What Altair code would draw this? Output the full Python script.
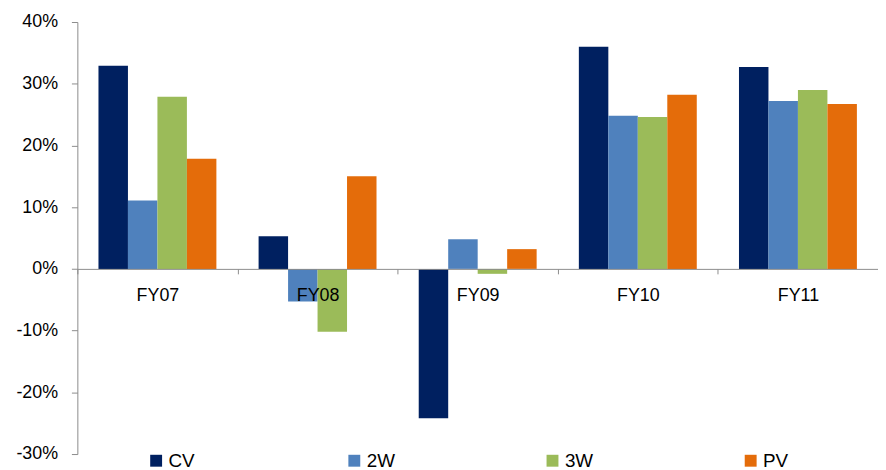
import altair as alt
import pandas as pd

years = ["FY07", "FY08", "FY09", "FY10", "FY11"]
segments = ["CV", "2W", "3W", "PV"]
cv = [0.329, 0.053, -0.242, 0.360, 0.327]
w2 = [0.111, -0.053, 0.048, 0.248, 0.272]
w3 = [0.279, -0.102, -0.008, 0.246, 0.290]
pv = [0.1785, 0.150, 0.032, 0.282, 0.267]
colors = ["#002060", "#4F81BD", "#9BBB59", "#E46C0A"]

rows = []
for seg, vals in zip(segments, [cv, w2, w3, pv]):
    for y, v in zip(years, vals):
        rows.append({"year": y, "seg": seg, "value": v})
df = pd.DataFrame(rows)

FONT = "Liberation Sans"
H = 436
zero_from_bottom = H * 0.3 / 0.7

chart = alt.Chart(df).mark_bar().encode(
    x=alt.X("year:N", sort=years,
            scale=alt.Scale(paddingInner=0, paddingOuter=0),
            axis=alt.Axis(title=None, labelAngle=0, offset=-zero_from_bottom,
                          tickBand="extent", tickSize=5, labelPadding=13,
                          labelFontSize=18, labelFont=FONT, labelColor="#000000",
                          domainColor="#8C8C8C", tickColor="#8C8C8C", zindex=1)),
    xOffset=alt.XOffset("seg:N", sort=segments,
                        scale=alt.Scale(paddingInner=0, paddingOuter=0.716)),
    y=alt.Y("value:Q",
            scale=alt.Scale(domain=[-0.3, 0.4], nice=False, zero=False),
            axis=alt.Axis(title=None, values=[-0.3, -0.2, -0.1, 0, 0.1, 0.2, 0.3, 0.4],
                          labelExpr="round(datum.value*100) + '%'",
                          grid=False, tickSize=6, labelPadding=14,
                          labelFontSize=18, labelFont=FONT, labelColor="#000000",
                          domainColor="#8C8C8C", tickColor="#8C8C8C")),
    color=alt.Color("seg:N", sort=segments,
                    scale=alt.Scale(domain=segments, range=colors),
                    legend=alt.Legend(title=None, orient="none", legendX=70, legendY=433,
                                      direction="horizontal", columns=4, gridAlign="all",
                                      columnPadding=149, symbolType="square",
                                      symbolSize=144, symbolStrokeWidth=0,
                                      labelFontSize=19, labelFont=FONT,
                                      labelColor="#000000", labelOffset=3)),
).properties(
    width=808, height=H,
    autosize=alt.AutoSizeParams(type="none"),
    padding={"left": 70, "top": 12, "right": 0, "bottom": 18},
).configure_view(stroke=None)

chart.save("out.html", embed_options={"renderer": "svg", "actions": False})
